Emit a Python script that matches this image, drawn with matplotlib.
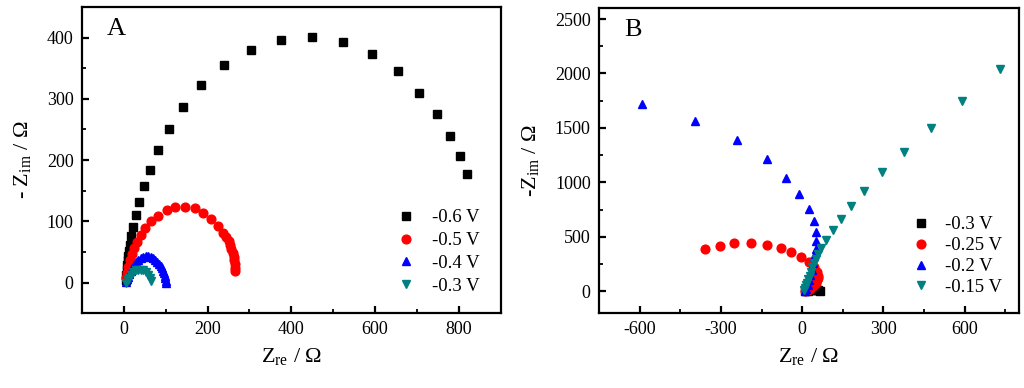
import matplotlib
matplotlib.use('Agg')
import matplotlib.pyplot as plt
from matplotlib.ticker import MultipleLocator

plt.rcParams['font.family'] = 'Liberation Serif'
plt.rcParams['mathtext.fontset'] = 'custom'
plt.rcParams['mathtext.rm'] = 'Liberation Serif'
plt.rcParams['axes.unicode_minus'] = False

# ---- panel A ----
a06_x = [820, 803, 780, 748, 705, 655, 593, 523, 450, 375, 304, 240, 185, 141, 108, 82, 62, 48, 37, 29, 23, 18, 14, 12, 10, 9, 8, 7, 6, 5]
a06_y = [178, 207, 240, 275, 310, 345, 373, 393, 401, 396, 380, 355, 322, 287, 251, 216, 184, 157, 131, 110, 91, 76, 62, 52, 44, 36, 28, 20, 12, 4]

a05_x = [266, 266, 265, 264, 262, 260, 257, 254, 250, 245, 236, 225, 209, 190, 169, 147, 123, 102, 82, 66, 51, 40, 32, 25, 19, 14, 10, 7, 5]
a05_y = [18, 24, 30, 36, 42, 48, 54, 61, 68, 75, 81, 92, 104, 114, 121, 124, 124, 118, 109, 100, 89, 77, 66, 56, 46, 36, 26, 16, 7]

a04_x = [100, 100, 99, 98, 96, 94, 91, 88, 84, 80, 75, 70, 64, 58, 52, 46, 40, 34, 29, 24, 20, 16, 13, 10, 8, 6]
a04_y = [0, 3, 7, 11, 15, 19, 23, 27, 31, 34, 37, 40, 42, 43, 43, 42, 40, 37, 33, 29, 24, 19, 14, 9, 5, 1]

a03_x = [65, 62, 58, 53, 47, 41, 35, 29, 23, 18, 13, 9, 6]
a03_y = [3, 8, 13, 17, 20, 21, 21, 20, 17, 13, 8, 4, 0]

labels_a = ['-0.6 V', '-0.5 V', '-0.4 V', '-0.3 V']

# ---- panel B ----
b03_x = [65, 60, 55, 48, 40, 30, 20, 10]
b03_y = [5, 10, 15, 18, 15, 10, 5, 2]

b025_x = [-360, -305, -250, -190, -130, -80, -40, -5, 25, 45, 55, 58, 57, 55, 50, 48, 40, 30, 20, 10]
b025_y = [385, 420, 440, 440, 425, 400, 360, 315, 270, 220, 175, 140, 120, 100, 80, 70, 45, 25, 10, 3]

b02_x = [-590, -395, -240, -130, -60, -10, 25, 42, 50, 52, 50, 45, 40, 35, 30, 25, 20, 15, 10]
b02_y = [1720, 1565, 1390, 1215, 1045, 895, 760, 645, 545, 460, 390, 320, 260, 200, 150, 100, 60, 25, 5]

b015_x = [730, 590, 475, 375, 295, 230, 180, 145, 115, 88, 70, 58, 50, 45, 38, 32, 27, 22, 18, 14, 10, 7]
b015_y = [2040, 1750, 1500, 1280, 1095, 925, 780, 660, 560, 470, 400, 345, 300, 260, 220, 180, 145, 110, 80, 55, 30, 10]

labels_b = ['-0.3 V', '-0.25 V', '-0.2 V', '-0.15 V']

kolores = ['black', 'red', 'blue', '#008080']
marcas = ['s', 'o', '^', 'v']

fig = plt.figure(figsize=(10.24, 3.88), dpi=100)
axA = fig.add_axes([0.080, 0.193, 0.409, 0.789])
axB = fig.add_axes([0.585, 0.193, 0.410, 0.786])

series_a = [(a06_x, a06_y), (a05_x, a05_y), (a04_x, a04_y), (a03_x, a03_y)]
series_b = [(b03_x, b03_y), (b025_x, b025_y), (b02_x, b02_y), (b015_x, b015_y)]

for i in range(4):
    axA.plot(series_a[i][0], series_a[i][1], linestyle='none', marker=marcas[i],
             color=kolores[i], markersize=6.3, label=labels_a[i])
    axB.plot(series_b[i][0], series_b[i][1], linestyle='none', marker=marcas[i],
             color=kolores[i], markersize=6.3, label=labels_b[i])

axA.set_xlim(-100, 900)
axA.set_ylim(-50, 450)
axA.xaxis.set_major_locator(MultipleLocator(200))
axA.xaxis.set_minor_locator(MultipleLocator(100))
axA.yaxis.set_major_locator(MultipleLocator(100))
axA.yaxis.set_minor_locator(MultipleLocator(50))

axB.set_xlim(-750, 800)
axB.set_ylim(-200, 2600)
axB.xaxis.set_major_locator(MultipleLocator(300))
axB.xaxis.set_minor_locator(MultipleLocator(150))
axB.yaxis.set_major_locator(MultipleLocator(500))
axB.yaxis.set_minor_locator(MultipleLocator(250))

for ax in (axA, axB):
    for s in ax.spines.values():
        s.set_linewidth(1.6)
    ax.tick_params(which='major', direction='in', length=5, width=1.6, labelsize=13, pad=6)
    ax.tick_params(which='minor', direction='in', length=3, width=1.3)
    ax.set_xlabel(r'Z$_{\mathrm{re}}$ / Ω', fontsize=16, labelpad=6)

axA.set_ylabel(r'- Z$_{\mathrm{im}}$ / Ω', fontsize=16, labelpad=9)
axB.set_ylabel(r'-Z$_{\mathrm{im}}$ / Ω', fontsize=16, labelpad=9)

axA.text(0.060, 0.965, 'A', transform=axA.transAxes, fontsize=19, ha='left', va='top')
axB.text(0.060, 0.965, 'B', transform=axB.transAxes, fontsize=19, ha='left', va='top')

axA.legend(loc='center left', bbox_to_anchor=(0.718, 0.2), frameon=False, fontsize=13.5,
           handlelength=1.5, handletextpad=0.65, labelspacing=0.3, borderpad=0)
axB.legend(loc='center left', bbox_to_anchor=(0.71, 0.187), frameon=False, fontsize=13.5,
           handlelength=1.5, handletextpad=0.55, labelspacing=0.2, borderpad=0)

plt.savefig('out.png', dpi=100)
